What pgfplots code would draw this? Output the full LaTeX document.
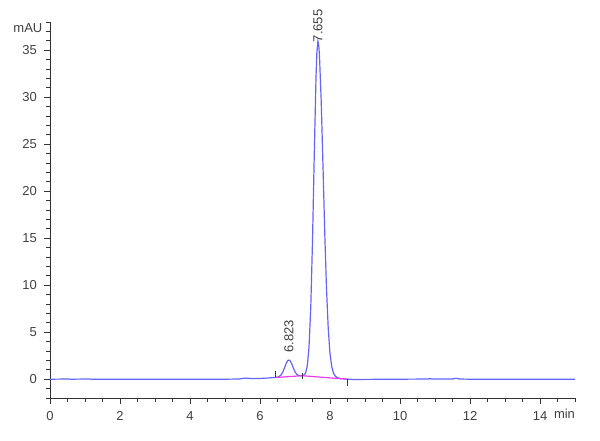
\documentclass[border=0pt]{standalone}
\usepackage{fontspec}
\setmainfont{Liberation Sans}
\usepackage{pgfplots}
\pgfplotsset{compat=1.18}
\definecolor{trace}{RGB}{100,100,250}
\definecolor{base}{RGB}{235,60,235}
\newcommand{\sm}{\fontsize{6.5}{7}\selectfont}
\begin{document}
\begin{tikzpicture}
\begin{axis}[
  scale only axis, width=262.5pt, height=188pt,
  xmin=0, xmax=15, ymin=-2, ymax=38,
  axis x line=bottom, axis y line=left,
  axis line style={-, black!80, line width=0.5pt},
  xtick={0,2,...,14}, minor xtick={0,0.5,...,15},
  ytick={0,5,...,35}, minor ytick={-2,-1,...,38},
  tick align=outside, major tick length=3pt, minor tick length=1.8pt,
  tick style={black!80, line width=0.4pt},
  ticklabel style={font=\sm, text=black!75},
  /pgf/number format/assume math mode=true,
  clip=false,
]
\coordinate (O) at (rel axis cs:0,0);
% chromatogram trace
\addplot[trace, line width=0.6pt] coordinates {
(0,0) (0.5,0.02) (0.6,0) (1.1,0.02) (1.2,0) (2,0) (3,0) (4,0) (5,0)
(5.4,0.02) (5.5,0.08) (5.6,0.12) (5.7,0.08) (5.8,0.06) (6.0,0.08)
(6.2,0.12) (6.4,0.18) (6.45,0.2) (6.50,0.22) (6.55,0.29) (6.60,0.45)
(6.65,0.75) (6.70,1.20) (6.75,1.69) (6.80,2.02) (6.85,2.02) (6.90,1.69)
(6.95,1.21) (7.00,0.79) (7.05,0.52) (7.10,0.41) (7.15,0.36) (7.20,0.36)
(7.25,0.41) (7.30,0.63) (7.35,1.38) (7.40,3.37) (7.45,7.59) (7.50,14.7)
(7.55,23.8) (7.60,32.1) (7.625,34.77) (7.655,35.96) (7.68,35.45)
(7.70,34.35) (7.75,29.44) (7.80,22.63) (7.85,15.52) (7.90,9.62)
(7.95,5.36) (8.00,2.72) (8.05,1.33) (8.10,0.64) (8.15,0.33) (8.20,0.19)
(8.25,0.10) (8.30,0.08) (8.40,0.03) (8.50,0) (8.7,-0.03) (9,-0.02)
(10,0) (10.8,0.02) (10.85,0.06) (10.9,0.02) (11.5,0.02) (11.6,0.1)
(11.7,0.02) (12,0) (13,0) (14,0) (15,0)
};
% integration baseline
\addplot[base, line width=0.6pt] coordinates {(6.45,0.18) (7.2,0.37) (8.5,0.0)};
% peak start / end markers
\addplot[only marks, mark=|, mark size=1.6pt, black!80, mark options={line width=0.4pt}]
  coordinates {(6.45,0.55) (7.2,0.35) (8.5,-0.35)};
\node[rotate=90, anchor=west, font=\sm, text=black!75, inner sep=1pt] at (axis cs:6.823,2.6) {6.823};
\node[rotate=90, anchor=west, font=\sm, text=black!75, inner sep=1pt] at (axis cs:7.655,35.6) {7.655};
\node[anchor=east, font=\sm, text=black!75, inner sep=1pt] at (axis cs:-0.15,37.4) {mAU};
\node[anchor=north, font=\sm, text=black!75, inner sep=1pt] at (axis cs:14.7,-2.9) {min};
\end{axis}
\pgfresetboundingbox
\path[use as bounding box] ([shift={(-25pt,-21pt)}]O) rectangle ([shift={(275pt,199pt)}]O);
\end{tikzpicture}
\end{document}
